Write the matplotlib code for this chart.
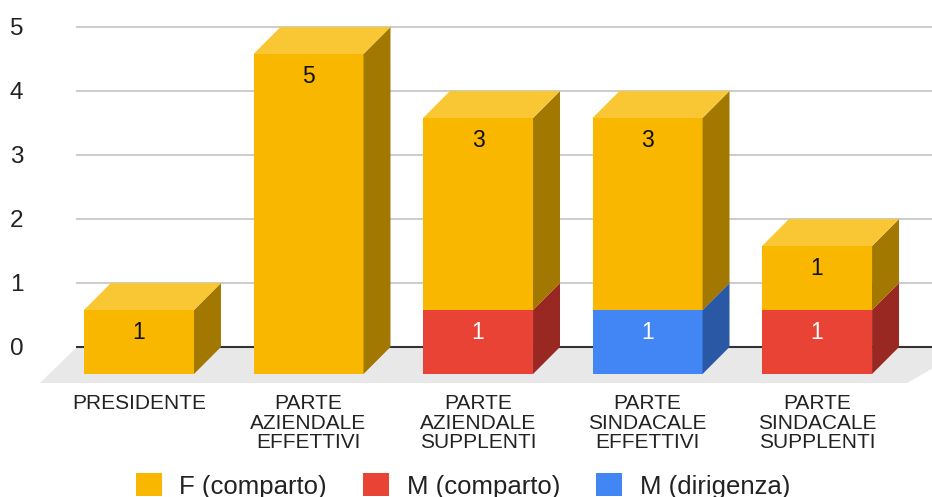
import numpy as np
import matplotlib.pyplot as plt
from matplotlib.patches import Polygon, Patch

plt.rcParams['font.family'] = ['Liberation Sans', 'DejaVu Sans']

categories = ['PRESIDENTE',
              'PARTE\nAZIENDALE\nEFFETTIVI',
              'PARTE\nAZIENDALE\nSUPPLENTI',
              'PARTE\nSINDACALE\nEFFETTIVI',
              'PARTE\nSINDACALE\nSUPPLENTI']
f_comparto = [1, 5, 3, 3, 1]
m_comparto = [0, 0, 1, 0, 1]
m_dirigenza = [0, 0, 0, 1, 0]
y_ticks = [0, 1, 2, 3, 4, 5]

# stacked bottom-up: (label, values, front, top, side, text colour)
series = [
    ('M (comparto)', m_comparto, '#E94335', '#EF6B5F', '#9A2822', 'white'),
    ('M (dirigenza)', m_dirigenza, '#4285F4', '#70A2F7', '#2B58A4', 'white'),
    ('F (comparto)', f_comparto, '#F9B700', '#F9C634', '#A37800', '#111111'),
]
legend_order = [2, 0, 1]

# fake 3d: depth offsets in data units
width = 0.649
dx = 0.159
dy = 0.422

fig = plt.figure(figsize=(9.32, 4.97), dpi=100)
ax = fig.add_axes([0, 0, 1, 1])
ax.set_xlim(-0.820, 4.678)
ax.set_ylim(-1.922, 5.844)
ax.axis('off')

# back wall gridlines + tick labels
for v in y_ticks:
    if v > 0:
        ax.plot([-0.366, 4.9], [v + dy, v + dy], color='#CCCCCC', lw=1.4, zorder=1)
    ax.text(-0.722, v + dy - 0.125, str(v), ha='center', va='baseline',
            fontsize=17.5, color='#222222')

# floor
floor = Polygon([(-0.366, dy), (4.9, dy), (4.531, -0.14), (-0.584, -0.14)],
                closed=True, facecolor='#E8E8E8', edgecolor='none', zorder=1)
ax.add_patch(floor)
ax.plot([-0.366, 4.9], [dy, dy], color='#333333', lw=1.5, zorder=2)

x = np.arange(len(categories))
bottom = np.zeros(len(categories))
for name, vals, front, top, side, tc in series:
    vals = np.array(vals, dtype=float)
    ax.bar(x, vals, width, bottom=bottom, color=front, lw=0, zorder=3)
    for xi, b, v in zip(x, bottom, vals):
        if v == 0:
            continue
        x0, x1 = xi - width / 2, xi + width / 2
        y0, y1 = b, b + v
        ax.add_patch(Polygon([(x1, y0), (x1 + dx, y0 + dy), (x1 + dx, y1 + dy), (x1, y1)],
                             closed=True, facecolor=side, edgecolor='none', zorder=3))
        ax.add_patch(Polygon([(x0, y1), (x1, y1), (x1 + dx, y1 + dy), (x0 + dx, y1 + dy)],
                             closed=True, facecolor=top, edgecolor='none', zorder=3))
        ax.text(xi, y1 - 0.45, '%d' % v, ha='center', va='baseline',
                fontsize=16.5, color=tc, zorder=4)
    bottom += vals

for xi, cat in zip(x, categories):
    ax.text(xi, -0.32, cat, ha='center', va='top', fontsize=15,
            linespacing=1.03, color='#222222')

handles = [Patch(facecolor=series[i][2], edgecolor='none') for i in legend_order]
labels = [series[i][0] for i in legend_order]
fig.legend(handles, labels, loc='center', bbox_to_anchor=(463 / 932, 1 - 486 / 497),
           ncol=3, frameon=False, fontsize=18.5, handlelength=1.0, handleheight=1.0,
           handletextpad=0.7, columnspacing=1.4, borderpad=0, borderaxespad=0,
           labelcolor='#222222')

fig.savefig('out.png', dpi=100)
